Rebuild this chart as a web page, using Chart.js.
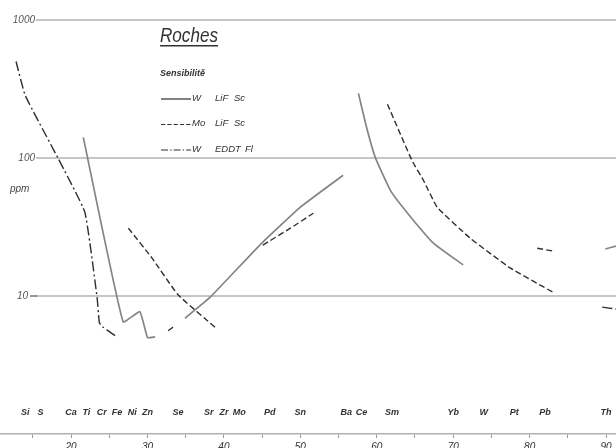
<!DOCTYPE html>
<html>
<head>
<meta charset="utf-8">
<script src="https://cdn.jsdelivr.net/npm/chart.js@4/dist/chart.umd.min.js"></script>
<style>
  html, body { margin: 0; padding: 0; background: #fff; overflow: hidden; }
  #boite { position: relative; width: 616px; height: 460px; }
</style>
</head>
<body>
<div id="boite"><canvas id="graphique"></canvas></div>
<script>
// Sensibilité (ppm) en fonction du numéro atomique Z -- null = interruption de la courbe
const wLifZ   = [21.6, 26.8, 29.0, 30.0, 31.0, null, 34.9, 38.2, 44.7, 50.0, 55.6, null, 57.6, 58.6, 59.8, 61.8, 64.0, 67.4, 71.3, null, 89.9, 91.3];
const wLifPpm = [141, 6.5, 7.7, 5.0, 5.05, null, 6.9, 9.8, 23.4, 44, 75, null, 294, 172, 101, 58, 40, 24.2, 16.8, null, 21.9, 23.0];

const moLifZ   = [27.5, 30.6, 34.0, 38.9, null, 32.7, 33.6, null, 45.1, 48.7, 51.7, null, 61.4, 64.6, 66.1, 67.9, 72.2, 77.5, 83.0, null, 81.0, 83.0];
const moLifPpm = [31, 18.8, 10.2, 5.9, null, 5.6, 6.1, null, 23.4, 31, 39.8, null, 245, 96, 69, 44, 26.3, 15.9, 10.7, null, 22.2, 21.2];

const wEddtZ   = [12.8, 14.0, 18.3, 21.8, 23.4, 23.7, 24.1, 26.0, null, 89.5, 91.3];
const wEddtPpm = [500, 284, 99.5, 40.5, 9.8, 6.4, 6.0, 5.05, null, 8.3, 8.05];

const xTicks = [15, 20, 25, 30, 35, 40, 45, 50, 55, 60, 65, 70, 75, 80, 85, 90];
const yGrid = [1000, 100, 10];
const yTickLabels = ['1000', '100', '10'];

const elements = ['Si', 'S', 'Ca', 'Ti', 'Cr', 'Fe', 'Ni', 'Zn', 'Se', 'Sr', 'Zr', 'Mo', 'Pd', 'Sn', 'Ba', 'Ce', 'Sm', 'Yb', 'W', 'Pt', 'Pb', 'Th'];
const elementZ = [14, 16, 20, 22, 24, 26, 28, 30, 34, 38, 40, 42, 46, 50, 56, 58, 62, 70, 74, 78, 82, 90];

const legendLabels = [['W', 'LiF', 'Sc'], ['Mo', 'LiF', 'Sc'], ['W', 'EDDT', 'Fl']];

const paires = (zs, vs) => zs.map((z, i) => ({ x: z, y: vs[i] }));

const encre = '#2e2e2e';
const styles = [
  { color: '#858585', width: 1.7, dash: [] },
  { color: encre, width: 1.4, dash: [6, 3] },
  { color: encre, width: 1.4, dash: [10, 3, 2, 3] }
];

const police = (taille, gras) => `italic ${gras ? 'bold ' : ''}${taille}px "Liberation Sans", "DejaVu Sans", sans-serif`;

const decor = {
  id: 'decor',
  beforeDatasetsDraw(chart) {
    const { ctx, scales: { y } } = chart;
    ctx.save();
    ctx.strokeStyle = '#c6c6c6';
    ctx.lineWidth = 2;
    yGrid.forEach(v => {
      const py = y.getPixelForValue(v);
      ctx.beginPath();
      ctx.moveTo(36, py);
      ctx.lineTo(chart.width, py);
      ctx.stroke();
    });
    ctx.restore();
  },
  afterDraw(chart) {
    const { ctx, scales: { x, y } } = chart;
    ctx.save();
    ctx.fillStyle = '#555';
    ctx.textBaseline = 'middle';
    ctx.textAlign = 'right';
    ctx.font = police(10);
    ctx.fillText(yTickLabels[0], 35, y.getPixelForValue(yGrid[0]));
    ctx.fillText(yTickLabels[1], 35, y.getPixelForValue(yGrid[1]));
    ctx.fillText(yTickLabels[2], 28, y.getPixelForValue(yGrid[2]));
    ctx.strokeStyle = '#555';
    ctx.lineWidth = 1.2;
    ctx.beginPath();
    ctx.moveTo(30, y.getPixelForValue(10));
    ctx.lineTo(37, y.getPixelForValue(10));
    ctx.stroke();

    ctx.textAlign = 'left';
    ctx.fillStyle = '#444';
    ctx.font = police(10);
    ctx.fillText('ppm', 10, 189);

    // titre souligné, un peu condensé
    ctx.fillStyle = '#333';
    ctx.font = police(20);
    ctx.textBaseline = 'alphabetic';
    const largeur = ctx.measureText('Roches').width;
    ctx.save();
    ctx.translate(160, 42);
    ctx.scale(58 / largeur, 1);
    ctx.fillText('Roches', 0, 0);
    ctx.restore();
    ctx.fillRect(160, 45, 58, 1.5);

    ctx.font = police(9, true);
    ctx.textBaseline = 'middle';
    ctx.fillText('Sensibilitě', 160, 74);

    // légende
    legendLabels.forEach((lab, i) => {
      const ly = 99 + i * 25.5;
      const st = styles[i];
      ctx.strokeStyle = encre;
      ctx.lineWidth = 1.2;
      ctx.setLineDash(st.dash.length ? st.dash.map(d => d * 0.7) : []);
      ctx.beginPath();
      ctx.moveTo(161, ly);
      ctx.lineTo(191, ly);
      ctx.stroke();
      ctx.setLineDash([]);
      ctx.fillStyle = '#333';
      ctx.font = police(9.5);
      ctx.fillText(lab[0], 192, ly - 1);
      ctx.fillText(lab[1], 215, ly - 1);
      ctx.fillText(lab[2], lab[1] === 'LiF' ? 234 : 245, ly - 1);
    });

    // symboles des éléments
    ctx.textAlign = 'center';
    ctx.fillStyle = '#333';
    ctx.font = police(9, true);
    elements.forEach((el, i) => {
      ctx.fillText(el, x.getPixelForValue(elementZ[i]), 413);
    });
    ctx.restore();
  }
};

const jeux = [
  { label: 'W LiF Sc', data: paires(wLifZ, wLifPpm) },
  { label: 'Mo LiF Sc', data: paires(moLifZ, moLifPpm) },
  { label: 'W EDDT Fl', data: paires(wEddtZ, wEddtPpm) }
].map((d, i) => Object.assign(d, {
  borderColor: styles[i].color,
  borderWidth: styles[i].width,
  borderDash: styles[i].dash,
  pointRadius: 0,
  tension: 0.12,
  spanGaps: false,
  fill: false
}));

new Chart(document.getElementById('graphique'), {
  type: 'line',
  data: { datasets: jeux },
  options: {
    responsive: true,
    maintainAspectRatio: false,
    animation: false,
    layout: { padding: { top: 20, left: 0, right: 0, bottom: 0 } },
    plugins: { legend: { display: false }, tooltip: { enabled: false } },
    scales: {
      x: {
        type: 'linear',
        min: 10.7,
        max: 91.3,
        afterBuildTicks: s => { s.ticks = xTicks.map(v => ({ value: v })); },
        afterFit: s => { s.height = 26; },
        grid: { drawOnChartArea: false, drawTicks: true, tickLength: 4, color: '#999' },
        border: { display: true, color: '#b0b0b0', width: 1.5 },
        ticks: {
          autoSkip: false,
          maxRotation: 0,
          padding: 3,
          color: '#333',
          font: { family: '"Liberation Sans", "DejaVu Sans", sans-serif', style: 'italic', size: 10 },
          callback: v => (v % 10 === 0 ? v : '')
        }
      },
      y: {
        type: 'logarithmic',
        min: 1,
        max: 1000,
        display: false
      }
    }
  },
  plugins: [decor]
});
</script>
</body>
</html>
